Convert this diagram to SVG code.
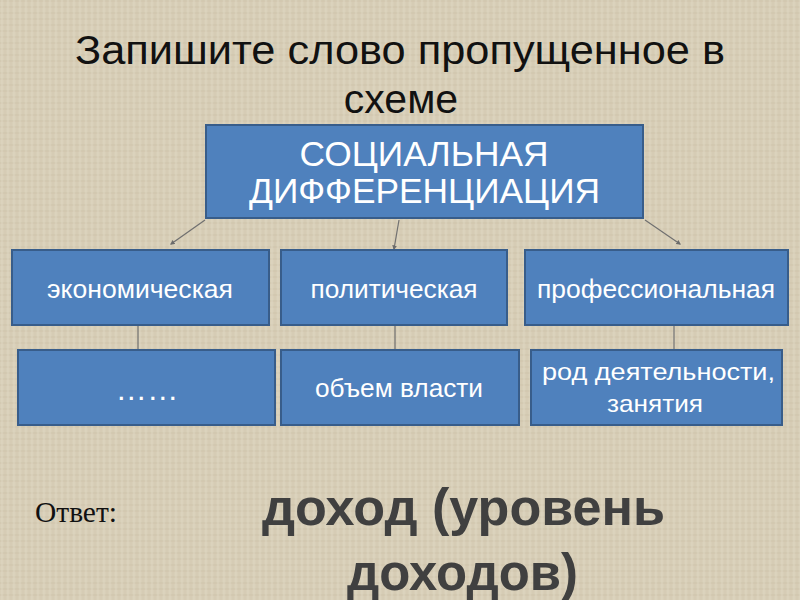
<svg xmlns="http://www.w3.org/2000/svg" width="800" height="600" viewBox="0 0 800 600">
<defs>
<pattern id="linen" width="6" height="6" patternUnits="userSpaceOnUse">
<rect width="6" height="6" fill="#d8cfb8"/>
<line x1="0" y1="1" x2="6" y2="1" stroke="#cdc2a9" stroke-width="0.8"/>
<line x1="2" y1="0" x2="2" y2="6" stroke="#e0d8c4" stroke-width="0.8"/>
<line x1="5" y1="0" x2="5" y2="6" stroke="#cec4ab" stroke-width="0.5"/>
</pattern>
<marker id="arr" markerWidth="4" markerHeight="4" refX="3" refY="2" orient="auto" markerUnits="strokeWidth">
<path d="M0,0 L4,2 L0,4 z" fill="#6b6b6b"/>
</marker>
<style>
.box{fill:#4f81bd;stroke:#385d8a;stroke-width:2}
.t{fill:#ffffff;font-family:"Liberation Sans",Arial,sans-serif;text-anchor:middle}
.s{font-size:26px}
.c{stroke:#707070;stroke-width:1.2;fill:none}
</style>
</defs>
<rect width="800" height="600" fill="url(#linen)"/>
<g id="title" font-family="Liberation Sans,Arial,sans-serif" font-size="41" fill="#111" text-anchor="middle">
<text x="400" y="64" textLength="650" lengthAdjust="spacingAndGlyphs">Запишите слово пропущенное в</text>
<text x="401" y="113">схеме</text>
</g>
<g id="connectors">
<line class="c" x1="205" y1="220" x2="171" y2="244" marker-end="url(#arr)"/>
<line class="c" x1="399" y1="220" x2="394" y2="249" marker-end="url(#arr)"/>
<line class="c" x1="645" y1="220" x2="680" y2="244" marker-end="url(#arr)"/>
<line class="c" x1="138" y1="325" x2="138" y2="349"/>
<line class="c" x1="395" y1="325" x2="395" y2="349"/>
<line class="c" x1="674" y1="325" x2="674" y2="350"/>
</g>
<g id="root">
<rect class="box" x="206" y="125" width="437" height="93"/>
<text class="t" x="424" y="166" font-size="35" textLength="249" lengthAdjust="spacingAndGlyphs">СОЦИАЛЬНАЯ</text>
<text class="t" x="424.5" y="203" font-size="35" textLength="351" lengthAdjust="spacingAndGlyphs">ДИФФЕРЕНЦИАЦИЯ</text>
</g>
<g id="econ">
<rect class="box" x="12" y="250" width="257" height="75"/>
<text class="t s" x="140" y="298" textLength="186" lengthAdjust="spacingAndGlyphs">экономическая</text>
</g>
<g id="polit">
<rect class="box" x="281" y="250" width="226" height="75"/>
<text class="t s" x="394" y="298" textLength="167" lengthAdjust="spacingAndGlyphs">политическая</text>
</g>
<g id="prof">
<rect class="box" x="525" y="250" width="263" height="75"/>
<text class="t s" x="656" y="298" textLength="238" lengthAdjust="spacingAndGlyphs">профессиональная</text>
</g>
<g id="dots">
<rect class="box" x="18" y="350" width="257" height="75"/>
<text class="t" x="147" y="400" font-size="30" textLength="63" lengthAdjust="spacingAndGlyphs">……</text>
</g>
<g id="power">
<rect class="box" x="281" y="350" width="238" height="75"/>
<text class="t s" x="399" y="397" textLength="168" lengthAdjust="spacingAndGlyphs">объем власти</text>
</g>
<g id="occupation">
<rect class="box" x="531" y="350" width="251" height="75"/>
<text class="t" x="658.5" y="380" font-size="24" textLength="233" lengthAdjust="spacingAndGlyphs">род деятельности,</text>
<text class="t" x="655" y="412" font-size="24" textLength="96" lengthAdjust="spacingAndGlyphs">занятия</text>
</g>
<g id="answer">
<text x="35" y="522" font-family="Liberation Serif,Times New Roman,serif" font-size="29" fill="#111" textLength="82" lengthAdjust="spacingAndGlyphs">Ответ:</text>
<text x="463.5" y="525" font-family="Liberation Sans,Arial,sans-serif" font-size="52" font-weight="bold" fill="#404040" text-anchor="middle" textLength="403" lengthAdjust="spacingAndGlyphs">доход (уровень</text>
<text x="462.5" y="590" font-family="Liberation Sans,Arial,sans-serif" font-size="52" font-weight="bold" fill="#404040" text-anchor="middle" textLength="231" lengthAdjust="spacingAndGlyphs">доходов)</text>
</g>
</svg>
